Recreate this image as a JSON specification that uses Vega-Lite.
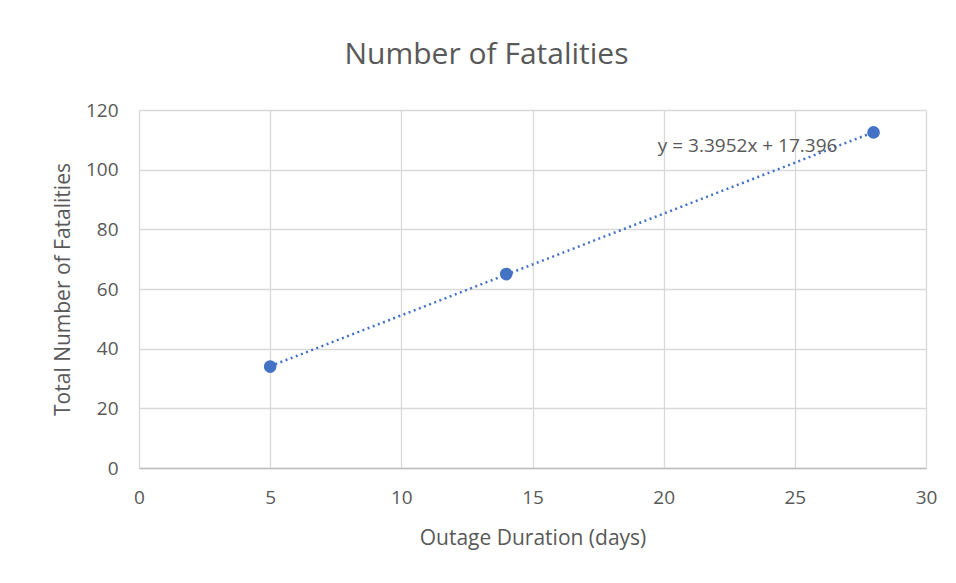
{
  "$schema": "https://vega.github.io/schema/vega-lite/v6.json",
  "width": 787,
  "height": 358,
  "autosize": {"type": "none"},
  "padding": {"left": 139, "top": 110, "right": 30, "bottom": 115},
  "background": "white",
  "config": {
    "view": {"stroke": null},
    "font": "Open Sans",
    "axis": {
      "gridColor": "#D9D9D9",
      "gridWidth": 1.3,
      "ticks": false,
      "labelFlush": false,
      "labelColor": "#595959",
      "titleColor": "#595959",
      "labelFontSize": 19,
      "titleFontSize": 21,
      "titleFontWeight": "normal",
      "labelFont": "Open Sans",
      "titleFont": "Open Sans"
    }
  },
  "title": {
    "text": "Number of Fatalities",
    "fontSize": 30,
    "fontWeight": "normal",
    "color": "#595959",
    "font": "Open Sans",
    "anchor": "middle",
    "dx": -46,
    "offset": 31
  },
  "datasets": {
    "points": [
      {"duration": 5, "fatalities": 34},
      {"duration": 14, "fatalities": 65},
      {"duration": 28, "fatalities": 112.5}
    ],
    "label": [
      {"duration": 23.2, "fatalities": 107.8, "text": "y = 3.3952x + 17.396"}
    ]
  },
  "layer": [
    {
      "data": {"name": "points"},
      "transform": [
        {"regression": "fatalities", "on": "duration", "method": "linear"}
      ],
      "mark": {"type": "line", "color": "#4472C4", "strokeWidth": 2.5, "strokeDash": [2, 3.5]},
      "encoding": {
        "x": {
          "field": "duration",
          "type": "quantitative",
          "scale": {"domain": [0, 30], "nice": false, "zero": false},
          "axis": {
            "values": [0, 5, 10, 15, 20, 25, 30],
            "title": "Outage Duration (days)",
            "labelPadding": 20,
            "titlePadding": 20,
            "domainColor": "#BFBFBF",
            "domainWidth": 1.5
          }
        },
        "y": {
          "field": "fatalities",
          "type": "quantitative",
          "scale": {"domain": [0, 120], "nice": false},
          "axis": {
            "values": [0, 20, 40, 60, 80, 100, 120],
            "title": "Total Number of Fatalities",
            "labelPadding": 21,
            "titlePadding": 12,
            "domain": false
          }
        }
      }
    },
    {
      "data": {"name": "points"},
      "mark": {"type": "point", "filled": true, "color": "#4472C4", "size": 160, "opacity": 1},
      "encoding": {
        "x": {"field": "duration", "type": "quantitative"},
        "y": {"field": "fatalities", "type": "quantitative"}
      }
    },
    {
      "data": {"name": "label"},
      "mark": {"type": "text", "fontSize": 19, "color": "#595959", "font": "Open Sans", "align": "center", "baseline": "middle"},
      "encoding": {
        "x": {"field": "duration", "type": "quantitative"},
        "y": {"field": "fatalities", "type": "quantitative"},
        "text": {"field": "text"}
      }
    }
  ]
}
